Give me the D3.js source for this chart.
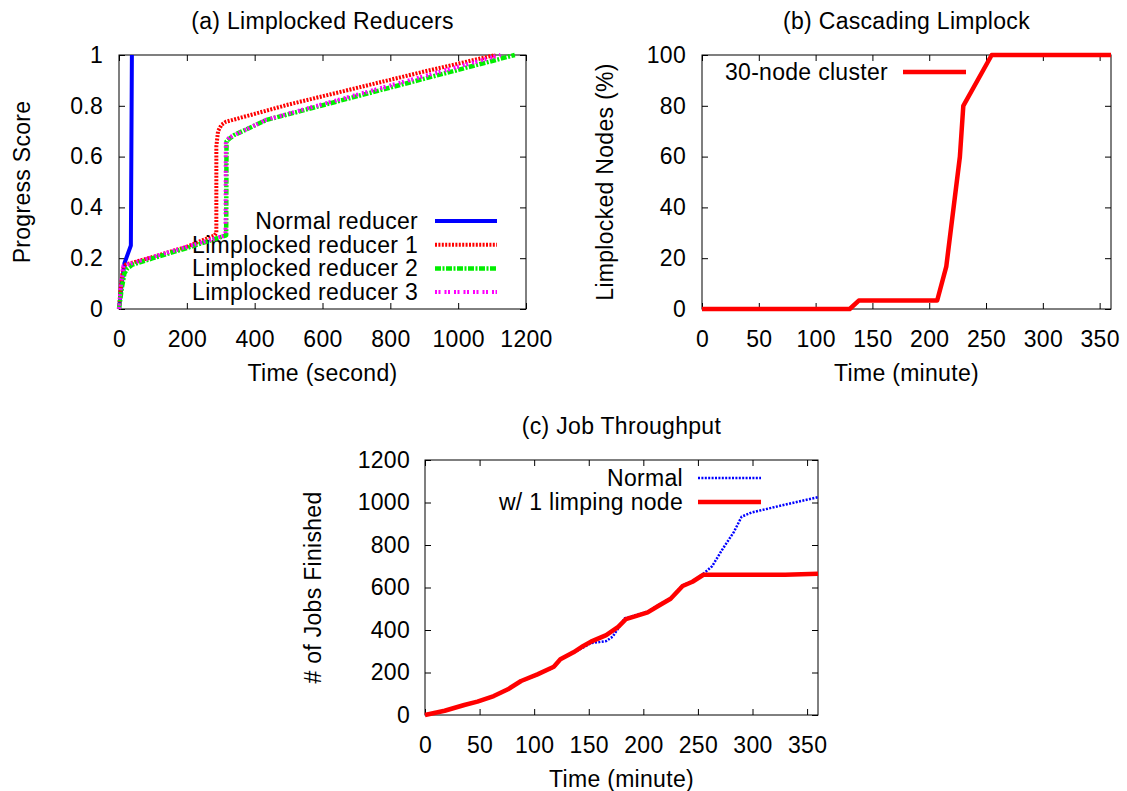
<!DOCTYPE html>
<html>
<head>
<title>Limplock</title>
<script src="https://d3js.org/d3.v7.min.js"></script>
<style>
  body { margin: 0; background: #fff; }
  svg text { font-family: "Liberation Sans", Arial, sans-serif; font-size: 23px; letter-spacing: 0.3px; fill: #000; }
</style>
</head>
<body>
<div id="chart"></div>
<script>
// ---- (a) Limplocked Reducers: progress score over time (second)
const aTicksX = [0, 200, 400, 600, 800, 1000, 1200];
const aTicksY = [0, 0.2, 0.4, 0.6, 0.8, 1];
const aNames = ["Normal reducer", "Limplocked reducer 1", "Limplocked reducer 2", "Limplocked reducer 3"];
const normalT = [0, 8, 16, 35, 38];
const normalP = [0, 0.1, 0.18, 0.25, 1];
const limp1T = [0, 5, 12, 20, 100, 200, 282, 287, 287, 292, 302, 315, 500, 700, 900, 1110];
const limp1P = [0, 0.08, 0.16, 0.175, 0.205, 0.245, 0.29, 0.3, 0.64, 0.7, 0.725, 0.737, 0.805, 0.87, 0.935, 1];
const limp2T = [0, 8, 16, 25, 40, 100, 200, 316, 317, 325, 340, 434, 1167];
const limp2P = [0, 0.08, 0.14, 0.16, 0.175, 0.2, 0.24, 0.29, 0.66, 0.67, 0.685, 0.744, 1];
const limp3T = [0, 6, 13, 100, 200, 314, 315, 325, 434, 1125];
const limp3P = [0, 0.1, 0.17, 0.205, 0.245, 0.29, 0.66, 0.675, 0.745, 1];

// ---- (b) Cascading Limplock: % of limplocked nodes over time (minute)
const bTicksX = [0, 50, 100, 150, 200, 250, 300, 350];
const bTicksY = [0, 20, 40, 60, 80, 100];
const bNames = ["30-node cluster"];
const clusterT = [0, 130, 138, 207, 215, 227, 230, 255, 360];
const clusterPct = [0, 0, 3.33, 3.33, 16.67, 60, 80, 100, 100];

// ---- (c) Job Throughput: jobs finished over time (minute)
const cTicksX = [0, 50, 100, 150, 200, 250, 300, 350];
const cTicksY = [0, 200, 400, 600, 800, 1000, 1200];
const cNames = ["Normal", "w/ 1 limping node"];
const normalJobT = [0, 18, 36, 48, 63, 76, 88, 103, 118, 124, 136, 145, 152, 166, 172, 183, 193, 204, 214, 225, 236, 245, 255, 263, 272, 283, 290, 299, 330, 360];
const normalJobs = [0, 20, 47, 63, 89, 119, 158, 189, 224, 260, 293, 318, 338, 348, 369, 455, 470, 487, 518, 550, 610, 630, 665, 700, 776, 862, 933, 953, 990, 1025];
const limpJobT = [0, 18, 36, 48, 63, 76, 88, 103, 118, 124, 136, 145, 152, 166, 177, 184, 193, 204, 214, 225, 236, 245, 255, 300, 330, 360];
const limpJobs = [0, 20, 47, 63, 89, 121, 160, 191, 227, 262, 295, 325, 345, 376, 415, 451, 465, 483, 514, 547, 607, 627, 660, 660, 660, 665];

const toPts = (ts, vs) => d3.zip(ts, vs);
const fmt = d3.format("~g");

const svg = d3.select("#chart").append("svg")
    .attr("width", 1127)
    .attr("height", 791);

function drawPanel(p) {
    const x = d3.scaleLinear().domain(p.xDomain).range([p.left, p.right]);
    const y = d3.scaleLinear().domain(p.yDomain).range([p.bottom, p.top]);
    const g = svg.append("g");

    // frame
    g.append("rect")
        .attr("x", p.left).attr("y", p.top)
        .attr("width", p.right - p.left).attr("height", p.bottom - p.top)
        .attr("fill", "none").attr("stroke", "#000").attr("stroke-width", 1);

    // axes, ticks inside, mirrored on top/right
    const strip = a => a.select(".domain").remove();
    g.append("g").attr("transform", `translate(0,${p.bottom})`)
        .call(d3.axisBottom(x).tickValues(p.xTicks).tickSize(-6).tickPadding(22).tickFormat(fmt)).call(strip);
    g.append("g").attr("transform", `translate(0,${p.top})`)
        .call(d3.axisTop(x).tickValues(p.xTicks).tickSize(-6).tickFormat("")).call(strip);
    g.append("g").attr("transform", `translate(${p.left},0)`)
        .call(d3.axisLeft(y).tickValues(p.yTicks).tickSize(-6).tickPadding(p.yPad).tickFormat(fmt)).call(strip);
    g.append("g").attr("transform", `translate(${p.right},0)`)
        .call(d3.axisRight(y).tickValues(p.yTicks).tickSize(-6).tickFormat("")).call(strip);

    // titles
    g.append("text").attr("x", (p.left + p.right) / 2).attr("y", p.top - 26)
        .attr("text-anchor", "middle").text(p.title);
    g.append("text").attr("x", (p.left + p.right) / 2).attr("y", p.bottom + 72)
        .attr("text-anchor", "middle").text(p.xLabel);
    g.append("text")
        .attr("transform", `translate(${p.yLabelX},${(p.top + p.bottom) / 2}) rotate(-90)`)
        .attr("dy", "0.35em").attr("text-anchor", "middle").text(p.yLabel);

    const line = d3.line().x(d => x(d[0])).y(d => y(d[1]));

    p.series.forEach((s, i) => {
        g.append("path")
            .datum(s.pts)
            .attr("d", line)
            .attr("fill", "none")
            .attr("stroke", s.color)
            .attr("stroke-width", s.width)
            .attr("stroke-dasharray", s.dash)
            .attr("stroke-linejoin", "round");

        // key entry
        const ky = p.key.y0 + i * p.key.step;
        g.append("text").attr("x", p.key.textEnd).attr("y", ky)
            .attr("dy", "0.35em").attr("text-anchor", "end").text(s.name);
        g.append("line")
            .attr("x1", p.key.x1).attr("x2", p.key.x2)
            .attr("y1", ky).attr("y2", ky)
            .attr("stroke", s.color)
            .attr("stroke-width", s.width)
            .attr("stroke-dasharray", s.dash);
    });
}

drawPanel({
    left: 119, right: 526, top: 55, bottom: 309,
    xDomain: [0, 1200], yDomain: [0, 1],
    xTicks: aTicksX, yTicks: aTicksY, yPad: 16,
    title: "(a) Limplocked Reducers", xLabel: "Time (second)", yLabel: "Progress Score", yLabelX: 22,
    key: { textEnd: 418, x1: 435, x2: 497, y0: 221, step: 23.7 },
    series: [
        { name: aNames[0], pts: toPts(normalT, normalP), color: "#0000ff", width: 4, dash: null },
        { name: aNames[1], pts: toPts(limp1T, limp1P), color: "#ff0000", width: 4, dash: "2,1.4" },
        { name: aNames[2], pts: toPts(limp2T, limp2P), color: "#00ee00", width: 4.5, dash: "6,1.5,2,1.5" },
        { name: aNames[3], pts: toPts(limp3T, limp3P), color: "#ff00ff", width: 4, dash: "2,1.5,2,4" }
    ]
});

drawPanel({
    left: 702, right: 1111, top: 55, bottom: 309,
    xDomain: [0, 360], yDomain: [0, 100],
    xTicks: bTicksX, yTicks: bTicksY, yPad: 16,
    title: "(b) Cascading Limplock", xLabel: "Time (minute)", yLabel: "Limplocked Nodes (%)", yLabelX: 605,
    key: { textEnd: 888, x1: 903, x2: 966, y0: 72, step: 24 },
    series: [
        { name: bNames[0], pts: toPts(clusterT, clusterPct), color: "#ff0000", width: 4.5, dash: null }
    ]
});

drawPanel({
    left: 425, right: 818, top: 460, bottom: 715,
    xDomain: [0, 360], yDomain: [0, 1200],
    xTicks: cTicksX, yTicks: cTicksY, yPad: 15,
    title: "(c) Job Throughput", xLabel: "Time (minute)", yLabel: "# of Jobs Finished", yLabelX: 313,
    key: { textEnd: 683, x1: 698, x2: 761, y0: 478, step: 24 },
    series: [
        { name: cNames[0], pts: toPts(normalJobT, normalJobs), color: "#0000ff", width: 2.5, dash: "2,1.4" },
        { name: cNames[1], pts: toPts(limpJobT, limpJobs), color: "#ff0000", width: 4.5, dash: null }
    ]
});
</script>
</body>
</html>
